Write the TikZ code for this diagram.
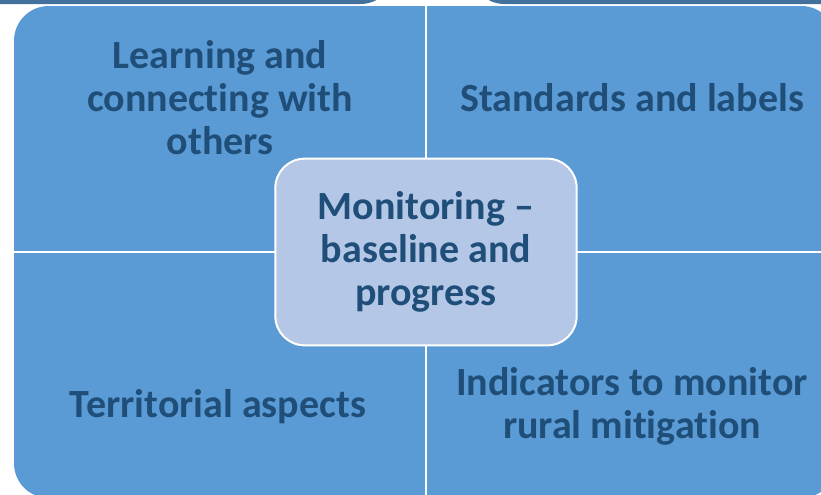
\documentclass[tikz,border=0pt]{standalone}
\usepackage{fontspec}
\setmainfont{Carlito}[Ligatures={TeX,NoCommon}]
\definecolor{quadblue}{HTML}{5B9BD5}
\definecolor{barblue}{HTML}{41719C}
\definecolor{hubfill}{HTML}{B4C7E7}
\definecolor{inkblue}{HTML}{1F4E79}
\tikzset{
  quadtext/.style={text=inkblue, align=center, font=\bfseries\fontsize{30}{32.25}\selectfont},
  hub/.style={quadtext, draw=white, line width=1.5pt, fill=hubfill,
    rounded corners=22pt, minimum width=226pt, minimum height=140pt, inner sep=0pt},
  divider/.style={white, line width=1.6pt},
}
\begin{document}
\begin{tikzpicture}[x=0.75pt,y=-0.75pt]
  \useasboundingbox (0,0) rectangle (821,494);
  \clip (0,0) rectangle (821,494);
  % shapes of the row above, cut off
  \fill[barblue, rounded corners=26pt] (-60,-100) rectangle (395,4);
  \fill[barblue, rounded corners=26pt] (470,-100) rectangle (900,4);
  % the four quadrants
  \fill[quadblue, rounded corners=26pt] (14,6) rectangle (836,498);
  \coordinate (top) at (426,6);
  \coordinate (bottom) at (426,498);
  \coordinate (left) at (14,252);
  \coordinate (right) at (836,252);
  \draw[divider] (top) -- (bottom);
  \draw[divider] (left) -- (right);
  \draw
    (220,98) node[quadtext] (learning) {Learning and\\connecting with\\others}
    (632,98) node[quadtext] (standards) {Standards and labels}
    (218,407) node[quadtext] (territorial) {Territorial aspects}
    (632,406) node[quadtext] (indicators) {Indicators to monitor\\rural mitigation};
  \node[hub] (monitoring) at (426,252) {Monitoring --\\baseline and\\progress};
\end{tikzpicture}
\end{document}
